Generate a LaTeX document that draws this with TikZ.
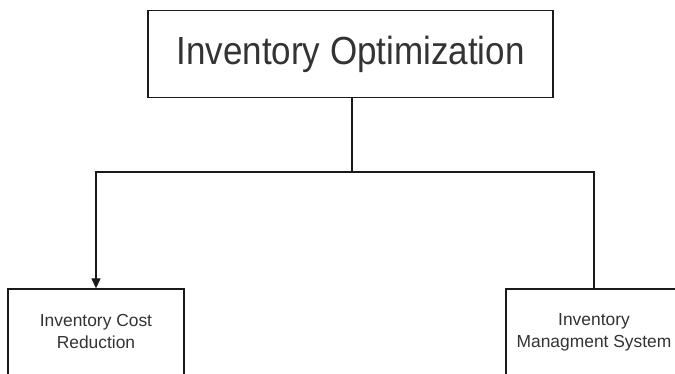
\documentclass[tikz,border=0pt]{standalone}
\usepackage{fontspec}
\setmainfont{Liberation Sans}
\usetikzlibrary{arrows.meta}
\definecolor{txt}{HTML}{333333}
\definecolor{ln}{HTML}{1A1A1A}
\tikzset{
  box/.style={draw=ln, line width=1.3pt, fill=white, inner sep=0pt, align=center, text=txt},
  conn/.style={draw=ln, line width=1.3pt},
}
\begin{document}
\begin{tikzpicture}[x=1pt,y=-1pt]
\useasboundingbox (0,0) rectangle (675,374);
\node[box, minimum width=405pt, minimum height=87pt, font=\fontsize{35}{40}\selectfont] (top) at (350.5,54) {\scalebox{1}[1.12]{Inventory Optimization}};
\node[box, minimum width=176pt, minimum height=86pt, font=\fontsize{17.4}{22}\selectfont] (left) at (96,332) {Inventory Cost\\Reduction};
\node[box, minimum width=176pt, minimum height=86pt, font=\fontsize{17.4}{22}\selectfont] (right) at (594,332) {Inventory\\Managment System};
\coordinate (split) at (352,172);
\draw[conn] ([xshift=1.5pt]top.south) -- (split);
\draw[conn, -{Triangle[length=10pt,width=9pt]}] (split) -| (left.north);
\draw[conn] (split) -| (right.north);
\end{tikzpicture}
\end{document}
